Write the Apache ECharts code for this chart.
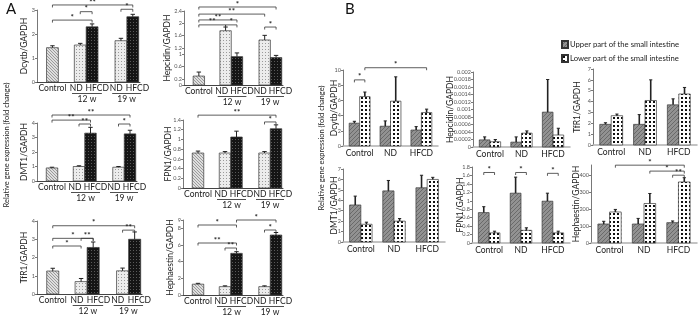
<!DOCTYPE html>
<html>
<head>
<meta charset="utf-8">
<script src="https://cdn.jsdelivr.net/npm/echarts@6/dist/echarts.min.js"></script>
<style>html,body{margin:0;background:#fff}#chart{width:700px;height:322px}</style>
</head>
<body>
<div id="chart"></div>
<script>
// ---------- panel A: Control, ND 12 w, HFCD 12 w, ND 19 w, HFCD 19 w
const groupsA = ['Control', 'ND', 'HFCD', 'ND', 'HFCD']
const weeksA = ['12 w', '19 w']

const dcytbA = [1.43, 1.54, 2.3, 1.72, 2.72]
const dcytbAErr = [0.08, 0.07, 0.12, 0.1, 0.1]
const hepcidinA = [0.29, 1.76, 0.92, 1.46, 0.89]
const hepcidinAErr = [0.13, 0.12, 0.12, 0.15, 0.07]
const dmt1A = [0.9, 1.0, 3.3, 0.95, 3.25]
const dmt1AErr = [0.05, 0.05, 0.4, 0.05, 0.25]
const fpn1A = [0.72, 0.72, 1.05, 0.72, 1.22]
const fpn1AErr = [0.04, 0.03, 0.12, 0.03, 0.08]
const tfr1A = [1.26, 0.68, 2.55, 1.27, 3.0]
const tfr1AErr = [0.15, 0.17, 0.3, 0.15, 0.4]
const hephA = [1.3, 1.0, 5.0, 1.0, 7.2]
const hephAErr = [0.1, 0.1, 0.2, 0.1, 0.3]

// significance brackets: [from bar, to bar, height, label]
const dcytbASig = [[0, 4, 3.21, '**'], [0, 2, 2.58, '*'], [1, 2, 2.93, '*'], [3, 4, 3.03, '*']]
const hepcidinASig = [[0, 4, 2.53, '*'], [0, 3, 2.3, '**'], [0, 2, 2.11, '**'], [0, 1, 1.95, '**'], [1, 2, 1.95, '*'], [3, 4, 1.88, '*']]
const dmt1ASig = [[0, 4, 4.55, '**'], [0, 2, 4.2, '**'], [1, 2, 3.93, '**'], [3, 4, 3.93, '*']]
const fpn1ASig = [[0, 4, 1.5, '**'], [3, 4, 1.36, '*']]
const tfr1ASig = [[0, 4, 3.74, '*'], [0, 2, 3.05, '*'], [1, 2, 3.05, '**'], [0, 1, 2.63, '*'], [3, 4, 3.5, '**']]
const hephASig = [[0, 2, 8.4, '*'], [2, 4, 9.0, '*'], [0, 2, 6.24, '**'], [1, 2, 5.64, '**'], [3, 4, 7.8, '*']]

const ticksDcytbA = [0, 1, 2, 3]
const ticksHepcidinA = [0, 0.2, 0.6, 1, 1.2, 1.6, 2, 2.4]
const ticksDmt1A = [0, 1, 2, 3, 4]
const ticksFpn1A = [0, 0.2, 0.4, 0.6, 0.8, 1, 1.2, 1.4]
const ticksTfr1A = [0, 1, 2, 3, 4]
const ticksHephA = [0, 2, 4, 6, 8, 9]

// ---------- panel B: upper / lower part of the small intestine
const groupsB = ['Control', 'ND', 'HFCD']
const seriesB = ['Upper part of the small intestine', 'Lower part of the small intestine']

const dcytbBUpper = [3.0, 2.6, 2.1]
const dcytbBUpperErr = [0.25, 0.7, 0.45]
const dcytbBLower = [6.5, 5.9, 4.4]
const dcytbBLowerErr = [0.6, 3.2, 0.45]
const hepcidinBUpper = [0.00019, 0.00013, 0.00093]
const hepcidinBUpperErr = [0.00008, 0.00014, 0.00087]
const hepcidinBLower = [0.00014, 0.00037, 0.00032]
const hepcidinBLowerErr = [0.00006, 0.00006, 0.00018]
const tfr1BUpper = [1.9, 1.9, 3.7]
const tfr1BUpperErr = [0.15, 0.9, 0.55]
const tfr1BLower = [2.7, 4.1, 4.7]
const tfr1BLowerErr = [0.15, 1.9, 0.6]
const dmt1BUpper = [3.55, 4.9, 5.2]
const dmt1BUpperErr = [0.85, 1.0, 1.2]
const dmt1BLower = [1.7, 2.0, 6.0]
const dmt1BLowerErr = [0.2, 0.25, 0.2]
const fpn1BUpper = [0.72, 1.18, 0.99]
const fpn1BUpperErr = [0.14, 0.38, 0.19]
const fpn1BLower = [0.24, 0.3, 0.24]
const fpn1BLowerErr = [0.04, 0.06, 0.04]
const hephBUpper = [112, 112, 120]
const hephBUpperErr = [16, 33, 10]
const hephBLower = [183, 233, 360]
const hephBLowerErr = [15, 59, 25]

// bars 0..5 = Control up, Control low, ND up, ND low, HFCD up, HFCD low
const dcytbBSig = [[0, 1, 8.7, '*'], [1, 5, 10.3, '*']]
const fpn1BSig = [[0, 1, 1.67, '*'], [2, 3, 1.67, '*'], [4, 5, 1.65, '*']]
const hephBSig = [[1, 5, 459, '*'], [3, 5, 424, '*'], [4, 5, 400, '**']]

const ticksDcytbB = [0, 2, 4, 6, 8, 10]
const ticksHepcidinB = [0, 0.0002, 0.0004, 0.0006, 0.0008, 0.001, 0.0012, 0.0014, 0.0016, 0.0018, 0.002]
const ticksSevenB = [0, 1, 2, 3, 4, 5, 6, 7]
const ticksFpn1B = [0, 0.2, 0.4, 0.6, 0.8, 1, 1.2, 1.4, 1.6, 1.8]
const ticksHephB = [0, 100, 200, 300, 400]

// ---------- layout
const SLOT_A = [1.5, 4.2, 5.35, 8.15, 9.3]
const LABEL_A = [1.5, 3.8, 5.85, 7.7, 9.75]
const WEEK_A = [[3.4, 6.3, 0], [7.3, 10.1, 0]]
const WEEK_MID_A = [4.85, 8.7]
const BAR_A = 1.15
const SLOT_B = [0.72, 1.38, 2.67, 3.33, 4.62, 5.28]
const LABEL_B = [1.05, 3.0, 4.95]
const BAR_B = 0.66

function tile(size, bg, paint) {
    let c = document.createElement('canvas')
    c.width = c.height = size
    let g = c.getContext('2d')
    g.fillStyle = bg
    g.fillRect(0, 0, size, size)
    paint(g)
    return { image: c, repeat: 'repeat' }
}
const fillControl = tile(3, '#dedede', g => { g.fillStyle = '#9a9a9a'; g.fillRect(0, 0, 1, 1); g.fillRect(1, 1, 1, 1); g.fillRect(2, 2, 1, 1) })
const fillND = tile(3, '#ececec', g => { g.fillStyle = '#9a9a9a'; g.fillRect(1, 1, 1, 1) })
const fillHFCD = tile(3, '#151515', g => { g.fillStyle = '#5a5a5a'; g.fillRect(1, 1, 1, 1) })
const fillUpper = tile(4, '#929292', g => { g.fillStyle = '#6a6a6a'; for (let k = 0; k < 4; k++) g.fillRect(k, 3 - k, 1, 1) })
const fillLower = tile(4, '#ffffff', g => { g.fillStyle = '#111'; g.fillRect(1, 1, 2, 2) })
const fillsA = [fillControl, fillND, fillHFCD, fillND, fillHFCD]

const chartsA = [
    { box: [37, 10, 103, 72], max: 3, ticks: ticksDcytbA, name: 'Dcytb/GAPDH', gap: 8, values: dcytbA, errors: dcytbAErr, sig: dcytbASig },
    { box: [184, 11, 99, 74], max: 2.4, ticks: ticksHepcidinA, name: 'Hepcidin/GAPDH', gap: 12, values: hepcidinA, errors: hepcidinAErr, sig: hepcidinASig },
    { box: [37, 123, 100, 58], max: 4, ticks: ticksDmt1A, name: 'DMT1/GAPDH', gap: 8, values: dmt1A, errors: dmt1AErr, sig: dmt1ASig },
    { box: [183, 120, 100, 68], max: 1.4, ticks: ticksFpn1A, name: 'FPN1/GAPDH', gap: 10, values: fpn1A, errors: fpn1AErr, sig: fpn1ASig },
    { box: [37, 221, 105, 73], max: 4, ticks: ticksTfr1A, name: 'TfR1/GAPDH', gap: 8, values: tfr1A, errors: tfr1AErr, sig: tfr1ASig },
    { box: [183, 220, 100, 75], max: 9, ticks: ticksHephA, name: 'Hephaestin/GAPDH', gap: 8, values: hephA, errors: hephAErr, sig: hephASig }
]
const chartsB = [
    { box: [343, 70, 95, 76], max: 10, ticks: ticksDcytbB, name: 'Dcytb/GAPDH', gap: 4, up: dcytbBUpper, upErr: dcytbBUpperErr, low: dcytbBLower, lowErr: dcytbBLowerErr, sig: dcytbBSig },
    { box: [473, 72, 97, 75], max: 0.002, ticks: ticksHepcidinB, name: 'Hepcidin/GAPDH', gap: 18, up: hepcidinBUpper, upErr: hepcidinBUpperErr, low: hepcidinBLower, lowErr: hepcidinBLowerErr, sig: [] },
    { box: [593, 69, 104, 76], max: 7, ticks: ticksSevenB, name: 'TfR1/GAPDH', gap: 11, up: tfr1BUpper, upErr: tfr1BUpperErr, low: tfr1BLower, lowErr: tfr1BLowerErr, sig: [] },
    { box: [343, 169, 102, 73], max: 7, ticks: ticksSevenB, name: 'DMT1/GAPDH', gap: 4, up: dmt1BUpper, upErr: dmt1BUpperErr, low: dmt1BLower, lowErr: dmt1BLowerErr, sig: [] },
    { box: [472, 167, 98, 76], max: 1.8, ticks: ticksFpn1B, name: 'FPN1/GAPDH', gap: 7, up: fpn1BUpper, upErr: fpn1BUpperErr, low: fpn1BLower, lowErr: fpn1BLowerErr, sig: fpn1BSig },
    { box: [591, 165, 106, 78], max: 460, ticks: ticksHephB, name: 'Hephaestin/GAPDH', gap: 10, up: hephBUpper, upErr: hephBUpperErr, low: hephBLower, lowErr: hephBLowerErr, sig: hephBSig }
]

function nearest(list, v) {
    let best = 0
    list.forEach((p, k) => { if (Math.abs(p - v) < Math.abs(list[best] - v)) best = k })
    return best
}

function barRender(width, fills, errW, capW) {
    return function (params, api) {
        let x = api.value(0), v = api.value(1), e = api.value(2)
        let base = api.coord([x, 0]), top = api.coord([x, v]), cap = api.coord([x, v + e])
        let w = api.size([width, 0])[0]
        return {
            type: 'group',
            children: [{
                type: 'rect',
                shape: { x: base[0] - w / 2, y: top[1], width: w, height: base[1] - top[1] },
                style: { fill: fills[api.value(3)], stroke: '#3a3a3a', lineWidth: 0.7 }
            }, {
                type: 'line',
                shape: { x1: base[0], y1: top[1], x2: base[0], y2: cap[1] },
                style: { stroke: '#222', lineWidth: errW }
            }, {
                type: 'line',
                shape: { x1: base[0] - capW, y1: cap[1], x2: base[0] + capW, y2: cap[1] },
                style: { stroke: '#222', lineWidth: 1 }
            }]
        }
    }
}

function sigRender(sig) {
    return function (params, api) {
        let a = api.coord([api.value(0), api.value(2)]), b = api.coord([api.value(1), api.value(2)])
        return {
            type: 'group',
            children: [{
                type: 'polyline',
                shape: { points: [[a[0], a[1] + 2.5], a, b, [b[0], b[1] + 2.5]] },
                style: { stroke: '#333', fill: null, lineWidth: 0.8 }
            }, {
                type: 'text',
                x: (a[0] + b[0]) / 2, y: a[1] + 1,
                style: { text: sig[params.dataIndex][3], textAlign: 'center', textVerticalAlign: 'bottom', fontSize: 8, fontWeight: 'bold', fill: '#222', fontFamily: 'Lato' }
            }]
        }
    }
}

// underline joining ND and HFCD of one feeding period
function weekLine(params, api) {
    let a = api.coord([api.value(0), 0]), b = api.coord([api.value(1), 0])
    return {
        type: 'line',
        shape: { x1: a[0], y1: a[1] + 11.5, x2: b[0], y2: b[1] + 11.5 },
        style: { stroke: '#222', lineWidth: 0.8 }
    }
}

let option = {
    animation: false,
    textStyle: { fontFamily: 'Lato' },
    title: [
        { text: 'A', left: 1, top: -3, textStyle: { fontSize: 15, fontWeight: 'normal', color: '#111' } },
        { text: 'B', left: 340, top: -3, textStyle: { fontSize: 15, fontWeight: 'normal', color: '#111' } }
    ],
    legend: {
        data: seriesB.map(n => ({ name: n, icon: 'rect' })),
        left: 561, top: 40, orient: 'vertical',
        itemWidth: 6, itemHeight: 7, itemGap: 5, padding: 0,
        textStyle: { fontSize: 7.7, color: '#222', padding: [0, 0, 0, -3] }
    },
    graphic: [
        { type: 'text', x: 7, y: 145, rotation: Math.PI / 2, style: { text: 'Relative gene expression (fold change)', textAlign: 'center', textVerticalAlign: 'middle', fontSize: 7.5, fill: '#222', fontFamily: 'Lato' } },
        { type: 'text', x: 322, y: 148, rotation: Math.PI / 2, style: { text: 'Relative gene expression (fold change)', textAlign: 'center', textVerticalAlign: 'middle', fontSize: 7.5, fill: '#222', fontFamily: 'Lato' } }
    ],
    grid: [], xAxis: [], yAxis: [], series: []
}

const labelFont = { fontSize: 8.5, color: '#222', hideOverlap: false, showMinLabel: true, showMaxLabel: true }

function addAxes(c, xMax, labelPos, labels, axisColor, xLineW, margin) {
    let g = option.grid.length
    option.grid.push({ left: c.box[0], top: c.box[1], width: c.box[2], height: c.box[3], containLabel: false, outerBoundsMode: 'none' })
    let x = option.xAxis.length
    option.xAxis.push({
        type: 'value', gridIndex: g, min: 0, max: xMax,
        splitLine: { show: false }, axisTick: { show: false },
        axisLine: { onZero: false, lineStyle: { color: axisColor, width: xLineW } },
        axisLabel: Object.assign({ customValues: labelPos, formatter: v => labels[nearest(labelPos, v)], margin }, labelFont)
    })
    option.yAxis.push({
        type: 'value', gridIndex: g, min: 0, max: c.max,
        splitLine: { show: false },
        axisLine: { show: true, onZero: false, lineStyle: { color: '#555', width: 0.8 } },
        axisTick: { show: true, customValues: c.ticks, length: 2, lineStyle: { color: '#555', width: 0.8 } },
        axisLabel: { customValues: c.ticks, fontSize: 5.5, color: '#555', margin: 2, showMinLabel: true, showMaxLabel: true },
        name: c.name, nameLocation: 'middle', nameGap: c.gap, nameMoveOverlap: false,
        nameTextStyle: { fontSize: 8.5, color: '#222' }
    })
    return { g, x }
}

chartsA.forEach(c => {
    let { g, x } = addAxes(c, 10, LABEL_A, groupsA, '#444', 1, 1.5)
    // second row of labels: feeding period
    option.xAxis.push({
        type: 'value', gridIndex: g, min: 0, max: 10, position: 'bottom', offset: 12,
        splitLine: { show: false }, axisTick: { show: false }, axisLine: { show: false },
        axisLabel: Object.assign({ customValues: WEEK_MID_A, formatter: v => weeksA[nearest(WEEK_MID_A, v)], margin: 0.5 }, labelFont)
    })
    option.series.push({
        type: 'custom', xAxisIndex: x, yAxisIndex: g, clip: false,
        renderItem: barRender(BAR_A, fillsA, 1, 2.2),
        data: c.values.map((v, k) => [SLOT_A[k], v, c.errors[k], k])
    })
    option.series.push({
        type: 'custom', xAxisIndex: x, yAxisIndex: g, clip: false,
        encode: { x: 0, y: 2 },
        renderItem: sigRender(c.sig),
        data: c.sig.map(s => [SLOT_A[s[0]], SLOT_A[s[1]], s[2]])
    })
    option.series.push({
        type: 'custom', xAxisIndex: x, yAxisIndex: g, clip: false,
        encode: { x: 0, y: 2 },
        renderItem: weekLine,
        data: WEEK_A
    })
})

chartsB.forEach(c => {
    let { g, x } = addAxes(c, 6, LABEL_B, groupsB, '#b0b0b0', 1.5, 3)
    option.series.push({
        type: 'custom', name: seriesB[0], xAxisIndex: x, yAxisIndex: g, clip: false,
        itemStyle: { color: fillUpper, borderColor: '#333', borderWidth: 0.8 },
        renderItem: barRender(BAR_B, [fillUpper], 1.6, 1.6),
        data: c.up.map((v, k) => [SLOT_B[2 * k], v, c.upErr[k], 0])
    })
    option.series.push({
        type: 'custom', name: seriesB[1], xAxisIndex: x, yAxisIndex: g, clip: false,
        itemStyle: { color: fillLower, borderColor: '#333', borderWidth: 0.8 },
        renderItem: barRender(BAR_B, [fillLower], 1.6, 1.6),
        data: c.low.map((v, k) => [SLOT_B[2 * k + 1], v, c.lowErr[k], 0])
    })
    option.series.push({
        type: 'custom', xAxisIndex: x, yAxisIndex: g, clip: false,
        encode: { x: 0, y: 2 },
        renderItem: sigRender(c.sig),
        data: c.sig.map(s => [SLOT_B[s[0]], SLOT_B[s[1]], s[2]])
    })
})

let chart = echarts.init(document.getElementById('chart'))
chart.setOption(option)
</script>
</body>
</html>
